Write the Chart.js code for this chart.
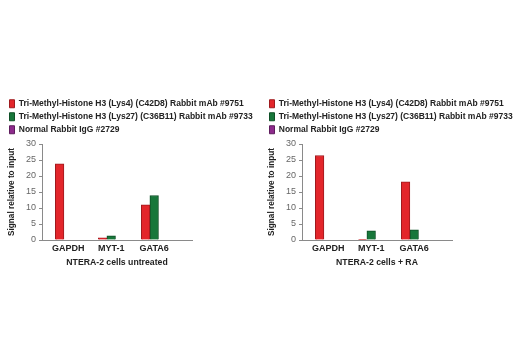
<!DOCTYPE html>
<html>
<head>
<meta charset="utf-8">
<script src="https://cdn.jsdelivr.net/npm/chart.js@4/dist/chart.umd.min.js"></script>
<style>
  html, body { margin: 0; padding: 0; background: #fff; }
  .wrap { display: flex; width: 520px; height: 350px; }
  .box { position: relative; width: 260px; height: 350px; }
</style>
</head>
<body>
<div class="wrap">
  <div class="box"><canvas id="untreatedChart" width="260" height="350"></canvas></div>
  <div class="box"><canvas id="raChart" width="260" height="350"></canvas></div>
</div>
<script>
// genes on the x axis
const categories = ['GAPDH', 'MYT-1', 'GATA6'];
const seriesNames = [
    'Tri-Methyl-Histone H3 (Lys4) (C42D8) Rabbit mAb #9751',
    'Tri-Methyl-Histone H3 (Lys27) (C36B11) Rabbit mAb #9733',
    'Normal Rabbit IgG #2729'
];
const yTicks = [0, 5, 10, 15, 20, 25, 30];

// NTERA-2 cells untreated
const untreatedK4 = [23.8, 0.7, 11.0];
const untreatedK27 = [0, 1.3, 13.9];
const untreatedIgG = [0, 0, 0];

// NTERA-2 cells + RA
const raK4 = [26.4, 0.2, 18.2];
const raK27 = [0, 2.9, 3.2];
const raIgG = [0, 0, 0];

const fill = ['#e3262b', '#17773a', '#8e2a8c'];
const edge = ['#9e1a1e', '#0e4f26', '#5e1c5d'];

// The original uses a condensed bold face; pick the narrowest installed one
// and size it so the long legend line is about as wide as in the picture.
function pickFont() {
    var m = document.createElement('canvas').getContext('2d');
    var sample = seriesNames[1];
    function w(f) { m.font = f; return m.measureText(sample).width; }
    var mono = w('bold 10px monospace');
    var options = [
        { weight: 'bold', family: "'Liberation Sans Narrow'" },
        { weight: 'bold', family: "'DejaVu Sans Condensed'" },
        { weight: 'bold condensed', family: "'Liberation Sans'" },
        { weight: 'bold', family: "'Liberation Sans'" }
    ];
    var best = null;
    options.forEach(o => {
        var width = w(o.weight + ' 10px ' + o.family + ', monospace');
        if (Math.abs(width - mono) < 0.5) return; // not installed
        if (!best || width < best.width - 1) best = { weight: o.weight, family: o.family, width: width };
    });
    if (!best) best = { weight: 'bold', family: 'Arial', width: w('bold 10px Arial') };
    best.scale = Math.min(1.05, 235 / best.width);
    best.family += ', Arial, sans-serif';
    return best;
}

const font = pickFont();
const sz = n => Math.round(n * font.scale * 10) / 10;
const regular = font.weight.replace('bold', 'normal');

function toPoints(values) {
    return values.map((v, i) => ({ x: i, y: v }));
}

function groupChart(canvasId, seriesValues, xTitle) {
    var ctx = document.getElementById(canvasId).getContext('2d');
    return new Chart(ctx, {
        type: 'bar',
        data: {
            datasets: seriesValues.map((vals, i) => ({
                label: seriesNames[i],
                data: toPoints(vals),
                backgroundColor: fill[i],
                borderColor: edge[i],
                borderWidth: 1,
                barThickness: 8.6
            }))
        },
        options: {
            responsive: false,
            animation: false,
            layout: { padding: { left: 5, right: 0, top: 95, bottom: 82 } },
            plugins: {
                tooltip: { enabled: false },
                legend: {
                    position: 'top',
                    align: 'start',
                    labels: {
                        boxWidth: 5,
                        boxHeight: 8,
                        padding: 4.5,
                        color: '#222',
                        font: { family: font.family, size: sz(10), weight: font.weight }
                    }
                }
            },
            scales: {
                x: {
                    type: 'linear',
                    offset: false,
                    bounds: 'data',
                    min: -0.61,
                    max: 2.88,
                    grid: { display: true, drawOnChartArea: false, drawTicks: false },
                    border: { display: true, color: '#8a8a8a', width: 1 },
                    afterBuildTicks: scale => { scale.ticks = categories.map((c, i) => ({ value: i })); },
                    ticks: {
                        maxRotation: 0,
                        autoSkip: false,
                        padding: 3,
                        color: '#222',
                        font: { family: font.family, size: sz(10.5), weight: font.weight },
                        callback: v => categories[v]
                    },
                    title: {
                        display: true,
                        text: xTitle,
                        color: '#222',
                        padding: { top: 1, bottom: 0 },
                        font: { family: font.family, size: sz(10.2), weight: font.weight }
                    },
                    afterFit: scale => { scale.height = 28; }
                },
                y: {
                    min: 0,
                    max: 30,
                    afterBuildTicks: scale => { scale.ticks = yTicks.map(v => ({ value: v })); },
                    grid: { drawOnChartArea: false, drawTicks: true, tickLength: 3, color: '#8a8a8a' },
                    border: { display: true, color: '#8a8a8a', width: 1 },
                    ticks: {
                        padding: 3,
                        color: '#666',
                        font: { family: font.family, size: sz(10.5), weight: regular }
                    },
                    title: {
                        display: true,
                        text: 'Signal relative to input',
                        color: '#222',
                        padding: { top: 2, bottom: 0 },
                        font: { family: font.family, size: sz(9.6), weight: font.weight }
                    },
                    afterFit: scale => { scale.width = 37; }
                },
                // empty right-hand room so the plot stops where the original's axis stops
                spacer: {
                    type: 'linear',
                    position: 'right',
                    display: true,
                    grid: { display: false },
                    border: { display: false },
                    ticks: { display: false },
                    afterFit: scale => { scale.width = 68; }
                }
            }
        }
    });
}

groupChart('untreatedChart', [untreatedK4, untreatedK27, untreatedIgG], 'NTERA-2 cells untreated');
groupChart('raChart', [raK4, raK27, raIgG], 'NTERA-2 cells + RA');
</script>
</body>
</html>
